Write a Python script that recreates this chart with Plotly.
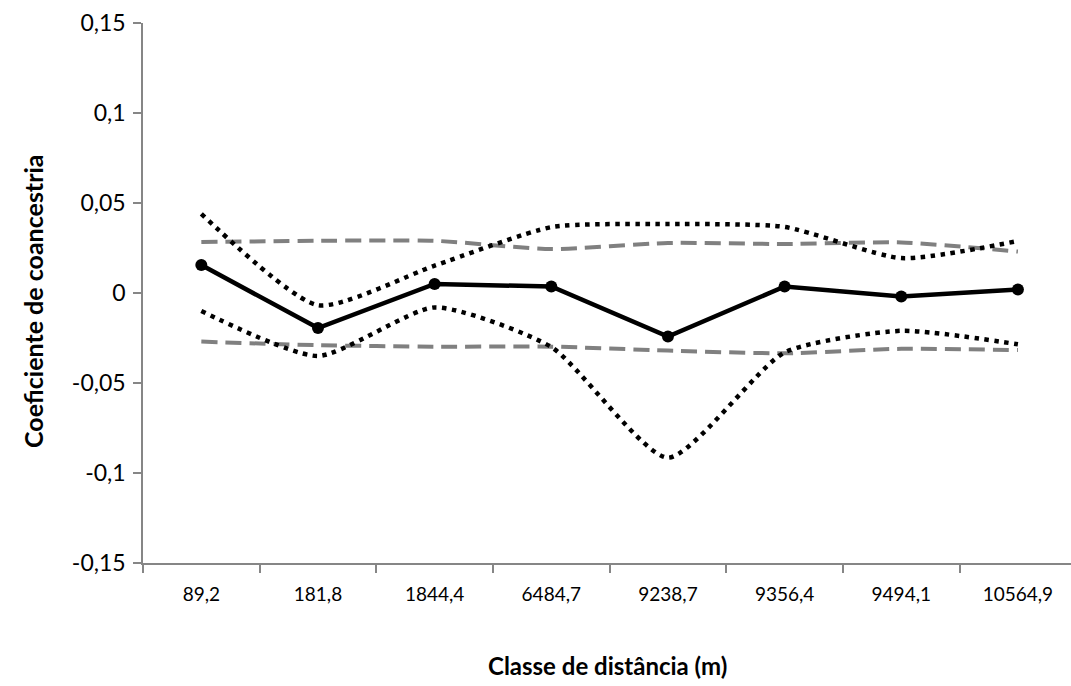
import plotly.graph_objects as go

# Distance classes (m) and the kinship coefficient per class
classes = ["89,2", "181,8", "1844,4", "6484,7", "9238,7", "9356,4", "9494,1", "10564,9"]
coancestry = [0.0155, -0.0195, 0.005, 0.0036, -0.0242, 0.0036, -0.002, 0.002]

# Confidence interval of the estimate (dotted)
ci_upper = [0.044, -0.0068, 0.0152, 0.0366, 0.0383, 0.0367, 0.0194, 0.0289]
ci_lower = [-0.010, -0.035, -0.008, -0.0300, -0.0915, -0.0330, -0.0210, -0.0285]

# Envelope under the null hypothesis (dashed)
null_upper = [0.0283, 0.029, 0.029, 0.0244, 0.0278, 0.0272, 0.0281, 0.0230]
null_lower = [-0.027, -0.029, -0.0298, -0.0298, -0.032, -0.0335, -0.031, -0.0317]

# Y-axis ticks
y_ticks = [0.15, 0.1, 0.05, 0, -0.05, -0.1, -0.15]
y_tick_text = ["0,15", "0,1", "0,05", "0", "-0,05", "-0,1", "-0,15"]

AXIS_GREY = "#868686"
FONT = "Lato"

fig = go.Figure()

for series in (null_upper, null_lower):
    fig.add_trace(go.Scatter(
        x=classes, y=series, mode="lines",
        line=dict(color="#808080", width=4, dash="16px,8px", shape="spline", smoothing=0.6),
        hoverinfo="skip", showlegend=False,
    ))

for series in (ci_upper, ci_lower):
    fig.add_trace(go.Scatter(
        x=classes, y=series, mode="lines",
        line=dict(color="#000000", width=4.5, dash="4.5px,5.5px", shape="spline", smoothing=0.6),
        hoverinfo="skip", showlegend=False,
    ))

fig.add_trace(go.Scatter(
    x=classes, y=coancestry, mode="lines+markers",
    line=dict(color="#000000", width=4.5),
    marker=dict(color="#000000", size=12),
    showlegend=False,
))

fig.update_layout(
    width=1071, height=686,
    margin=dict(l=143, r=0, t=23, b=123),
    paper_bgcolor="white", plot_bgcolor="white",
    font=dict(family=FONT, color="#000000"),
    showlegend=False,
)

fig.update_xaxes(
    type="category",
    categoryorder="array", categoryarray=classes,
    range=[-0.5, 7.455],
    showgrid=False, zeroline=False,
    showline=True, linecolor=AXIS_GREY, linewidth=1.5,
    ticks="outside", tickson="boundaries", ticklen=8, tickcolor=AXIS_GREY, tickwidth=1.5,
    tickfont=dict(size=19, family=FONT),
    ticklabelstandoff=13,
)

fig.update_yaxes(
    range=[-0.15, 0.15],
    tickvals=y_ticks, ticktext=y_tick_text,
    showgrid=False, zeroline=False,
    showline=True, linecolor=AXIS_GREY, linewidth=1.5,
    ticks="outside", ticklen=8, tickcolor=AXIS_GREY, tickwidth=1.5,
    tickfont=dict(size=23, family=FONT),
    ticklabelstandoff=3,
)

# Axis titles
fig.add_annotation(
    text="<b>Classe de distância (m)</b>",
    xref="paper", yref="paper", x=0.5, y=0, yshift=-102,
    showarrow=False, font=dict(size=24, family=FONT),
    xanchor="center", yanchor="middle",
)
fig.add_annotation(
    text="<b>Coeficiente de coancestria</b>",
    xref="paper", yref="paper", x=0, xshift=-110, y=0.5, yshift=-8,
    textangle=-90, showarrow=False, font=dict(size=25, family=FONT),
    xanchor="center", yanchor="middle",
)

fig.write_html("out.html")
